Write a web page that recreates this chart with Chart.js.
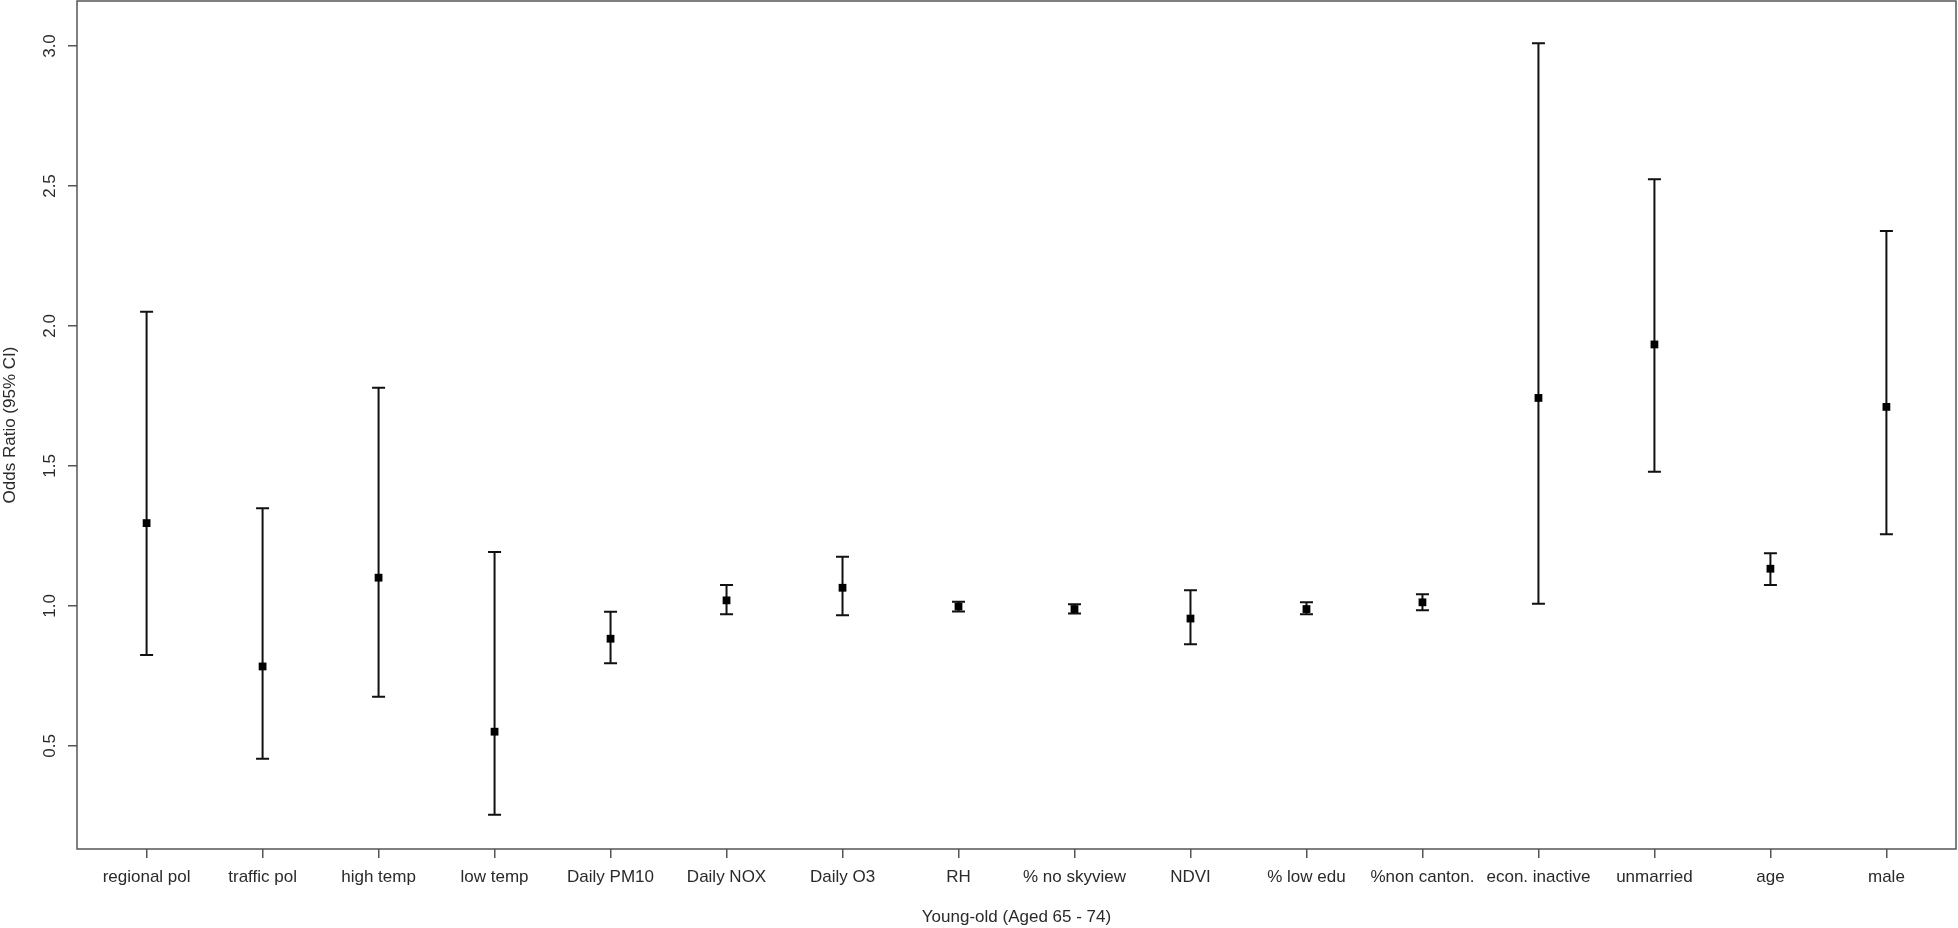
<!DOCTYPE html>
<html>
<head>
<meta charset="utf-8">
<script src="https://cdn.jsdelivr.net/npm/chart.js@4/dist/chart.umd.min.js"></script>
<style>
  html, body { margin: 0; padding: 0; background: #fff; }
</style>
</head>
<body>
<canvas id="orChart" width="1958" height="928"></canvas>
<script>
// odds ratios with 95% CI
var categories = ['regional pol', 'traffic pol', 'high temp', 'low temp', 'Daily PM10', 'Daily NOX',
                  'Daily O3', 'RH', '% no skyview', 'NDVI', '% low edu', '%non canton.',
                  'econ. inactive', 'unmarried', 'age', 'male'];
var oddsRatio = [1.296, 0.784, 1.101, 0.551, 0.883, 1.020, 1.065, 0.998, 0.989, 0.955, 0.989, 1.013, 1.743, 1.934, 1.133, 1.711];
var lowerCI   = [0.825, 0.454, 0.676, 0.254, 0.795, 0.970, 0.967, 0.980, 0.973, 0.863, 0.970, 0.985, 1.008, 1.479, 1.075, 1.256];
var upperCI   = [2.051, 1.349, 1.779, 1.193, 0.979, 1.075, 1.176, 1.015, 1.006, 1.056, 1.013, 1.042, 3.010, 2.524, 1.188, 2.339];
var yTicks = [0.5, 1.0, 1.5, 2.0, 2.5, 3.0];

var textFont = "'Liberation Sans', Arial, sans-serif";
var textColor = '#2a2a2a';
var axisColor = '#555';

// error bars (stem + caps), drawn under the points
var errorBars = {
  id: 'errorBars',
  beforeDatasetsDraw: function(chart) {
    var ctx = chart.ctx;
    var xs = chart.scales.x, ys = chart.scales.y;
    ctx.save();
    ctx.strokeStyle = '#111';
    ctx.lineWidth = 2;
    for (var i = 0; i < categories.length; i++) {
      var px = xs.getPixelForValue(i + 1);
      var lo = ys.getPixelForValue(lowerCI[i]);
      var hi = ys.getPixelForValue(upperCI[i]);
      ctx.beginPath();
      ctx.moveTo(px, lo); ctx.lineTo(px, hi);
      ctx.moveTo(px - 6.5, lo); ctx.lineTo(px + 6.5, lo);
      ctx.moveTo(px - 6.5, hi); ctx.lineTo(px + 6.5, hi);
      ctx.stroke();
    }
    ctx.restore();
  }
};

var frame = {
  id: 'frame',
  afterDraw: function(chart) {
    var a = chart.chartArea, ctx = chart.ctx;
    ctx.save();
    ctx.strokeStyle = axisColor;
    ctx.lineWidth = 1.5;
    ctx.strokeRect(a.left, a.top, a.right - a.left, a.bottom - a.top);
    ctx.restore();
  }
};

function noPad(s) {
  s.paddingTop = 0; s.paddingBottom = 0; s.paddingLeft = 0; s.paddingRight = 0;
}

var chart = new Chart(document.getElementById('orChart').getContext('2d'), {
  type: 'scatter',
  data: {
    datasets: [{
      label: 'Odds Ratio',
      data: oddsRatio.map(function(v, i) { return {x: i + 1, y: v}; }),
      pointStyle: 'rect',
      pointRadius: 5.5,
      backgroundColor: '#000',
      borderWidth: 0
    }]
  },
  options: {
    responsive: false,
    animation: false,
    layout: { autoPadding: false, padding: { left: 0, right: 2, top: 1, bottom: 0 } },
    plugins: { legend: { display: false }, tooltip: { enabled: false } },
    scales: {
      x: {
        type: 'linear',
        min: 0.4,
        max: 16.6,
        afterFit: function(s) { s.height = 79; noPad(s); },
        afterBuildTicks: function(s) { s.ticks = categories.map(function(c, i) { return {value: i + 1}; }); },
        border: { display: false },
        grid: { drawOnChartArea: false, drawTicks: true, tickLength: 9, color: axisColor, lineWidth: 1.5 },
        ticks: {
          padding: 9,
          color: textColor,
          font: { family: textFont, size: 17 },
          maxRotation: 0,
          autoSkip: false,
          callback: function(v) { return categories[v - 1]; }
        },
        title: {
          display: true,
          text: 'Young-old (Aged 65 - 74)',
          color: textColor,
          font: { family: textFont, size: 17 },
          padding: { top: 0, bottom: 0 }
        }
      },
      y: {
        type: 'linear',
        min: 0.132,
        max: 3.1607,
        afterFit: function(s) { s.width = 77; noPad(s); },
        afterBuildTicks: function(s) { s.ticks = yTicks.map(function(v) { return {value: v}; }); },
        border: { display: false },
        grid: { drawOnChartArea: false, drawTicks: true, tickLength: 9, color: axisColor, lineWidth: 1.5 },
        ticks: {
          padding: 6,
          minRotation: 90,
          maxRotation: 90,
          crossAlign: 'center',
          color: textColor,
          font: { family: textFont, size: 17 },
          callback: function(v) { return v.toFixed(1); }
        },
        title: {
          display: true,
          text: 'Odds Ratio (95% CI)',
          color: textColor,
          font: { family: textFont, size: 17 },
          padding: { top: 0, bottom: 0 }
        }
      }
    }
  },
  plugins: [errorBars, frame]
});
</script>
</body>
</html>
